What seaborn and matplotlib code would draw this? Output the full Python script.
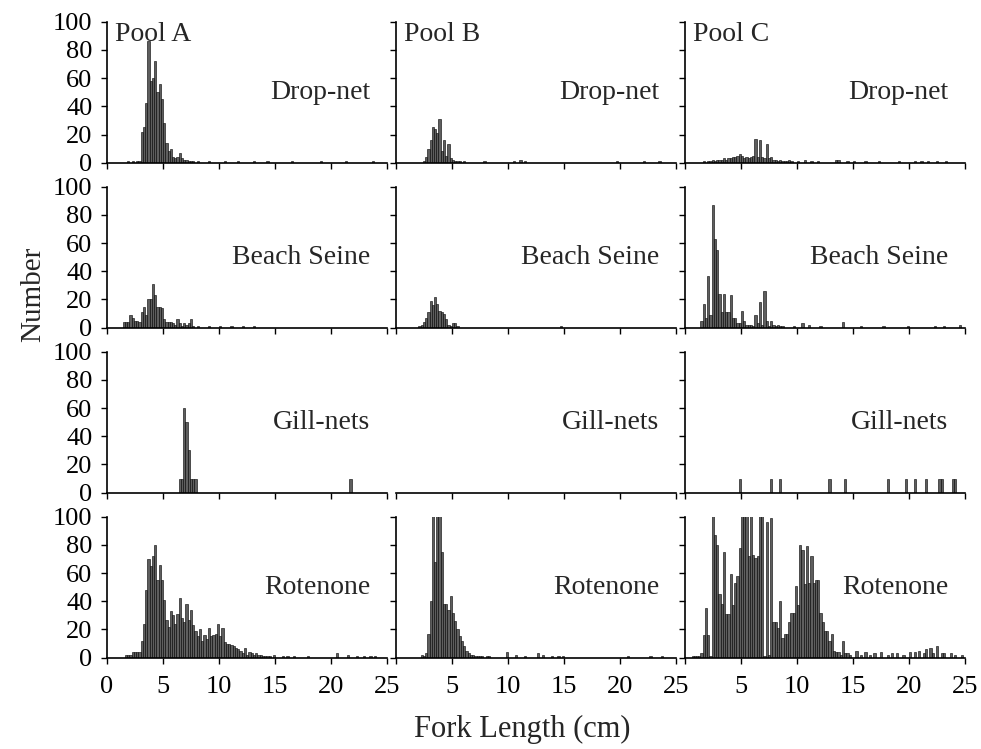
import numpy as np
import pandas as pd
import seaborn as sns
import matplotlib
matplotlib.use("Agg")
import matplotlib.pyplot as plt

BIN = 0.2  # width of one length class (cm)

pools = ["Pool A", "Pool B", "Pool C"]
gears = ["Drop-net", "Beach Seine", "Gill-nets", "Rotenone"]

# counts per 0.2 cm class, the first class starts at *_start (cm)
# *_tail_x / *_tail_n are the scattered single classes further out
a_drop_start = 1.8
a_drop_n = [1, 0, 1, 0, 1, 1, 22, 25, 42, 86, 58, 60, 72, 50, 56, 45, 28, 14, 8, 10,
            4, 3, 4, 7, 3, 2, 2, 1, 1, 1, 0, 1]
a_drop_tail_x = [9.0, 10.4, 11.6, 13.0, 14.2, 16.4, 19.0, 21.2, 23.6]
a_drop_tail_n = [1, 1, 1, 1, 1, 1, 1, 1, 1]

b_drop_start = 2.4
b_drop_n = [1, 4, 10, 16, 25, 24, 21, 31, 8, 16, 5, 13, 3, 2, 1, 1, 1, 0, 1]
b_drop_tail_x = [7.8, 10.4, 11.0, 11.4, 19.6, 22.0, 23.4]
b_drop_tail_n = [1, 1, 2, 1, 1, 1, 1]

c_drop_start = 1.6
c_drop_n = [1, 0, 1, 1, 2, 1, 2, 2, 2, 3, 2, 3, 3, 4, 4, 5, 6, 5, 3, 4,
            3, 4, 5, 17, 4, 16, 4, 3, 13, 3, 4, 2, 2, 1, 2, 1, 1, 1, 2, 1]
c_drop_tail_x = [10.0, 10.6, 11.2, 11.8, 13.4, 13.6, 14.4, 15.0, 16.0, 17.2, 19.0,
                 20.4, 21.0, 21.6, 22.4, 23.2]
c_drop_tail_n = [1, 2, 1, 1, 2, 2, 1, 1, 1, 1, 1, 1, 1, 1, 1, 1]

a_seine_start = 1.4
a_seine_n = [4, 4, 4, 9, 7, 5, 5, 4, 11, 15, 9, 20, 20, 31, 23, 15, 15, 14, 6, 4,
             4, 4, 3, 2, 6, 3, 1, 3, 2, 3, 6, 1, 0, 1]
a_seine_tail_x = [9.0, 10.0, 11.0, 12.0, 13.0]
a_seine_tail_n = [1, 1, 1, 1, 1]

b_seine_start = 2.0
b_seine_n = [1, 2, 4, 7, 11, 19, 16, 22, 17, 12, 11, 10, 6, 2, 1, 3, 3, 1]
b_seine_tail_x = [14.6]
b_seine_tail_n = [1]

c_seine_start = 1.4
c_seine_n = [5, 17, 7, 37, 9, 87, 63, 55, 24, 11, 24, 11, 11, 23, 7, 7, 3, 3, 12, 5,
             2, 2, 2, 1, 9, 3, 18, 2, 26, 5, 1, 5, 2, 1, 2, 1, 1]
c_seine_tail_x = [9.6, 10.4, 11.0, 12.0, 14.0, 15.6, 17.6, 19.8, 22.2, 23.0, 24.4]
c_seine_tail_n = [1, 3, 2, 1, 4, 1, 1, 1, 1, 1, 2]

a_gill_start = 6.4
a_gill_n = [10, 10, 60, 50, 30, 10, 10, 10]
a_gill_tail_x = [21.6]
a_gill_tail_n = [10]

b_gill_start = 0.0
b_gill_n = []
b_gill_tail_x = []
b_gill_tail_n = []

c_gill_start = 0.0
c_gill_n = []
c_gill_tail_x = [4.8, 7.6, 8.4, 12.8, 14.2, 18.0, 19.6, 20.4, 21.4, 22.6, 22.8, 23.8, 24.0]
c_gill_tail_n = [10, 10, 10, 10, 10, 10, 10, 10, 10, 10, 10, 10, 10]

a_rot_start = 1.6
a_rot_n = [2, 2, 2, 4, 4, 4, 4, 12, 24, 48, 70, 65, 72, 80, 55, 66, 55, 41, 27, 22,
           33, 30, 24, 31, 42, 28, 25, 38, 27, 34, 23, 19, 15, 20, 12, 16, 13, 21, 15, 16,
           17, 24, 15, 21, 11, 10, 10, 9, 8, 7, 6, 5, 3, 7, 2, 4, 3, 2, 3, 2,
           2, 1, 1, 1, 1]
a_rot_tail_x = [14.8, 15.6, 16.0, 16.6, 17.8, 20.4, 21.4, 22.2, 22.8, 23.4, 23.8]
a_rot_tail_n = [2, 1, 1, 1, 1, 3, 2, 1, 1, 1, 1]

b_rot_start = 2.2
b_rot_n = [2, 1, 3, 17, 40, 110, 68, 110, 110, 75, 38, 38, 34, 44, 32, 26, 20, 15, 12, 8,
           5, 3, 2, 2, 1, 1, 1, 1, 0, 1, 1]
b_rot_tail_x = [9.8, 10.6, 11.4, 12.6, 13.0, 13.8, 14.4, 14.8, 20.6, 22.6, 23.6]
b_rot_tail_n = [4, 2, 1, 3, 2, 1, 1, 1, 1, 1, 1]

c_rot_start = 0.6
c_rot_n = [1, 1, 1, 1, 3, 16, 35, 16, 1, 110, 87, 80, 45, 38, 75, 31, 31, 59, 37, 53,
           58, 78, 110, 110, 110, 72, 110, 73, 71, 72, 110, 110, 1, 96, 2, 99, 25, 25, 21, 40,
           14, 17, 17, 25, 32, 32, 51, 37, 80, 76, 52, 79, 53, 72, 53, 55, 55, 32, 25, 19,
           19, 12, 17, 5, 4, 4, 2, 12, 3, 3, 2]
c_rot_tail_x = [15.2, 15.6, 16.0, 16.4, 16.8, 17.4, 18.0, 18.4, 18.8, 19.4, 20.0, 20.4,
                20.8, 21.2, 21.4, 21.8, 22.0, 22.4, 22.8, 23.0, 23.6, 24.0, 24.6]
c_rot_tail_n = [5, 2, 4, 2, 3, 4, 2, 3, 3, 2, 4, 4, 5, 3, 6, 7, 3, 8, 3, 3, 3, 2, 2]

panels = [
    [(a_drop_start, a_drop_n, a_drop_tail_x, a_drop_tail_n),
     (b_drop_start, b_drop_n, b_drop_tail_x, b_drop_tail_n),
     (c_drop_start, c_drop_n, c_drop_tail_x, c_drop_tail_n)],
    [(a_seine_start, a_seine_n, a_seine_tail_x, a_seine_tail_n),
     (b_seine_start, b_seine_n, b_seine_tail_x, b_seine_tail_n),
     (c_seine_start, c_seine_n, c_seine_tail_x, c_seine_tail_n)],
    [(a_gill_start, a_gill_n, a_gill_tail_x, a_gill_tail_n),
     (b_gill_start, b_gill_n, b_gill_tail_x, b_gill_tail_n),
     (c_gill_start, c_gill_n, c_gill_tail_x, c_gill_tail_n)],
    [(a_rot_start, a_rot_n, a_rot_tail_x, a_rot_tail_n),
     (b_rot_start, b_rot_n, b_rot_tail_x, b_rot_tail_n),
     (c_rot_start, c_rot_n, c_rot_tail_x, c_rot_tail_n)],
]


def panel_frame(start, counts, tail_x, tail_n):
    """turn the class counts into a long frame of class centres and weights"""
    x = [start + BIN * (i + 0.5) for i in range(len(counts))]
    x += [t + BIN / 2 for t in tail_x]
    return pd.DataFrame({"length": x, "n": list(counts) + list(tail_n)})


sns.set_style("ticks")
plt.rcParams["font.family"] = ["Liberation Serif", "DejaVu Serif"]

xticks = [0, 5, 10, 15, 20, 25]

fig, axes = plt.subplots(4, 3, figsize=(9.81, 7.49), dpi=100)
plt.subplots_adjust(left=0.109, right=0.984, top=0.971, bottom=0.122,
                    wspace=0.03, hspace=0.17)

for i, gear in enumerate(gears):
    for j, pool in enumerate(pools):
        ax = axes[i, j]
        df = panel_frame(*panels[i][j])
        if len(df):
            sns.histplot(data=df, x="length", weights="n", binwidth=BIN,
                         binrange=(0, 25), ax=ax, color="#5e5e5e",
                         edgecolor="black", linewidth=0.4, alpha=1, legend=False)
        ax.set_xlim(0, 25)
        ax.set_ylim(0, 100)
        ax.set_xlabel("")
        ax.set_ylabel("")
        ax.set_xticks(xticks)
        ax.set_yticks([0, 20, 40, 60, 80, 100])
        ax.tick_params(direction="out", length=4.5, width=1, labelsize=19,
                       colors="black", labelleft=(j == 0), labelbottom=(i == 3))
        ax.tick_params(axis="x", pad=9)
        ax.tick_params(axis="y", pad=6)
        if i == 3:
            labels = [str(t) for t in xticks]
            if j > 0:
                labels[0] = ""
            ax.set_xticklabels(labels)
        sns.despine(ax=ax)
        for side in ["left", "bottom"]:
            ax.spines[side].set_linewidth(1.2)
            ax.spines[side].set_color("black")
        if i == 2 and j == 1:
            ax.spines["left"].set_visible(False)
            ax.tick_params(left=False)
        ax.text(0.94, 0.5, gear, transform=ax.transAxes, ha="right", va="center",
                fontsize=20)
        if i == 0:
            ax.text(0.03, 1.0, pool, transform=ax.transAxes, ha="left", va="top",
                    fontsize=20)

fig.text(0.034, 0.607, "Number", rotation=90, ha="center", va="center", fontsize=21)
fig.text(0.532, 0.026, "Fork Length (cm)", ha="center", va="center", fontsize=22)

fig.savefig("out.png", dpi=100)
